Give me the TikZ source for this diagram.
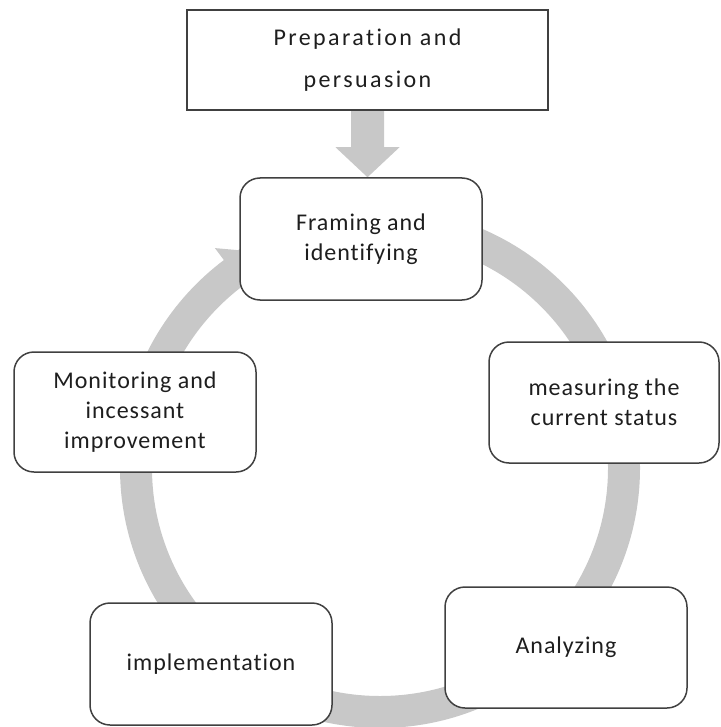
\documentclass[tikz,border=0pt]{standalone}
\usepackage{fontspec}
\setmainfont{Carlito}[Ligatures={NoCommon}]
\newfontfamily\stepfont[LetterSpace=4,Ligatures={NoCommon},RawFeature={-liga;-clig}]{Carlito}
\newfontfamily\leadfont[LetterSpace=10,Ligatures={NoCommon},RawFeature={-liga;-clig}]{Carlito}
\usetikzlibrary{calc}
\pgfdeclarelayer{bg}
\pgfsetlayers{bg,main}
\definecolor{bandgray}{RGB}{200,200,200}
\definecolor{edgegray}{RGB}{64,64,64}
\definecolor{inkgray}{RGB}{30,30,30}
\begin{document}
\begin{tikzpicture}[x=1pt,y=-1pt,
  stage/.style={draw=edgegray, line width=1.5pt, fill=white,
    rounded corners=20pt, align=center, text=inkgray, inner sep=0pt,
    font=\stepfont\fontsize{24}{30}\selectfont},
  leadbox/.style={draw=edgegray, line width=1.5pt, fill=white,
    align=center, text=inkgray, inner sep=0pt,
    font=\leadfont\fontsize{24}{42}\selectfont},
  band/.style={draw=bandgray, line width=32pt},
  bandfill/.style={fill=bandgray}]
\useasboundingbox (0,0) rectangle (720,727);

% stages of the cycle
\node[leadbox, minimum width=361pt, minimum height=100pt] (prep) at (367.5,60)
  {Preparation and\\persuasion};
\node[stage, minimum width=242pt, minimum height=122pt] (frame) at (361,239)
  {Framing and\\identifying};
\node[stage, minimum width=230pt, minimum height=121pt] (measure) at (604,402.5)
  {measuring the\\current status};
\node[stage, minimum width=242pt, minimum height=121pt] (analyze) at (566,647.5)
  {Analyzing};
\node[stage, minimum width=242pt, minimum height=122pt] (implement) at (211,664)
  {implementation};
\node[stage, minimum width=242pt, minimum height=120pt] (monitor) at (135,412)
  {Monitoring and\\incessant\\improvement};

\begin{pgfonlayer}{bg}
  % circular band running behind the stages
  \coordinate (hub) at (380,468);
  \draw[band] (hub) circle[radius=244];
  % head of the band, entering the first stage
  \fill[bandfill] ($(hub)+(-126.9:275)$) -- ($(hub)+(-118:244)$)
    -- ($(hub)+(-126.9:213)$) -- cycle;
  % block arrow from the preparation box down to the cycle
  \coordinate (aTop) at (prep.south);
  \coordinate (aTip) at (prep.south |- frame.north);
  \fill[bandfill] ($(aTop)+(-16.5,0)$) -- ($(aTop)+(16.5,0)$)
    -- ($(aTip)+(16.5,-30)$) -- ($(aTip)+(32,-30)$) -- (aTip)
    -- ($(aTip)+(-32,-30)$) -- ($(aTip)+(-16.5,-30)$) -- cycle;
\end{pgfonlayer}
\end{tikzpicture}
\end{document}
